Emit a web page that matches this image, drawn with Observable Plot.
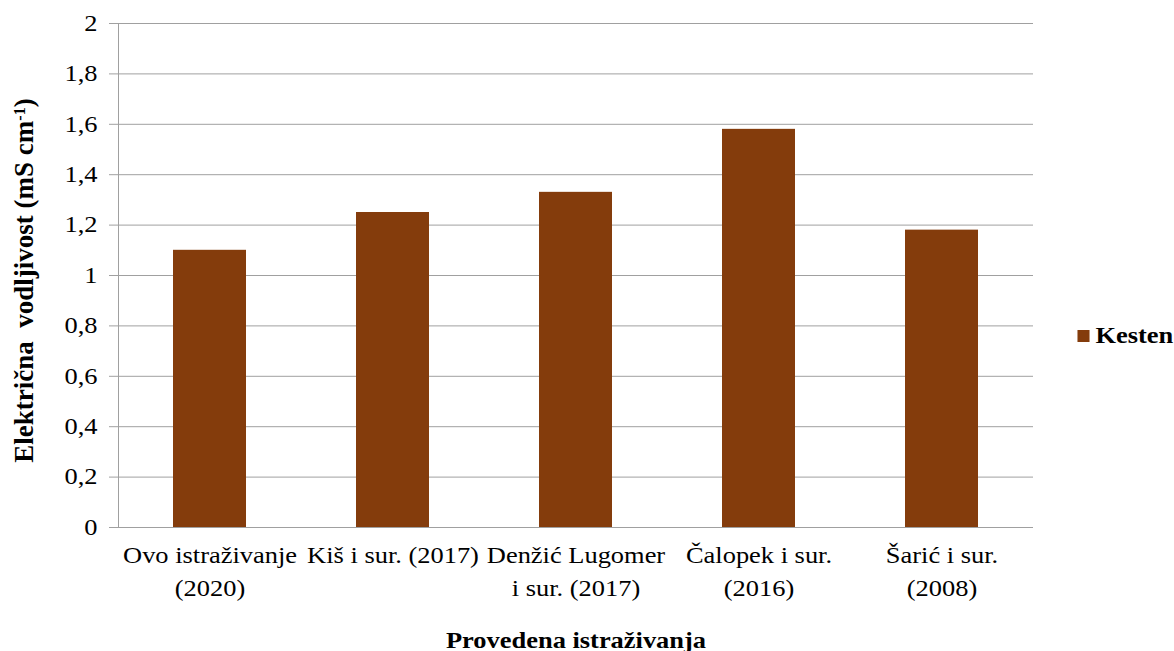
<!DOCTYPE html>
<html>
<head>
<meta charset="utf-8">
<script src="https://cdn.jsdelivr.net/npm/d3@7"></script>
<script src="https://cdn.jsdelivr.net/npm/@observablehq/plot@0.6"></script>
<style>
  html, body { margin: 0; padding: 0; background: #fff; }
  #chart { width: 1174px; height: 651px; }
</style>
</head>
<body>
<div id="chart"></div>
<script>
const categories = ["Ovo istraživanje (2020)", "Kiš i sur. (2017)", "Denžić Lugomer i sur. (2017)", "Čalopek i sur. (2016)", "Šarić i sur. (2008)"];
const tickLabels = ["Ovo istraživanje\n(2020)", "Kiš i sur. (2017)", "Denžić Lugomer\ni sur. (2017)", "Čalopek i sur.\n(2016)", "Šarić i sur.\n(2008)"];
const values = [1.10, 1.25, 1.33, 1.58, 1.18];
const yTicks = [0, 0.2, 0.4, 0.6, 0.8, 1.0, 1.2, 1.4, 1.6, 1.8, 2.0];
const seriesName = "Kesten";
const xTitle = "Provedena istraživanja";
const yTitle = "Električna\u00a0 vodljivost (mS cm-1)";

const data = categories.map((c, i) => ({study: c, value: values[i]}));
const barColor = "#843C0C";
const gridColor = "#a0a0a0";

const plot = Plot.plot({
  width: 1174,
  height: 651,
  marginLeft: 118,
  marginRight: 141,
  marginTop: 23,
  marginBottom: 124,
  style: {fontFamily: "'Liberation Serif', 'Times New Roman', serif", fontSize: "23px", color: "black", background: "white"},
  x: {domain: categories, paddingInner: 0.6, paddingOuter: 0.3, label: null},
  y: {domain: [0, 2], label: null},
  marks: [
    Plot.gridY(yTicks, {stroke: gridColor, strokeOpacity: 1}),
    Plot.barY(data, {x: "study", y: "value", fill: barColor}),
    Plot.ruleY([0], {stroke: gridColor}),
    Plot.frame({anchor: "left", stroke: gridColor}),
    Plot.axisY(yTicks, {
      tickSize: 9, tickPadding: 12, stroke: gridColor, fill: "black",
      tickFormat: d => String(Math.round(d * 10) / 10).replace(".", ","),
      label: null, fontSize: 23
    }),
    Plot.axisX({
      tickSize: 0, tickPadding: 12, fill: "black", fontSize: 23,
      tickFormat: d => tickLabels[categories.indexOf(d)],
      lineHeight: 1.43, lineAnchor: "top", label: null
    }),
    Plot.text([xTitle], {frameAnchor: "bottom", dy: 120, lineAnchor: "bottom", fontWeight: "bold", fontSize: 23, fill: "black"}),
    Plot.dot([seriesName], {frameAnchor: "right", dx: 50, dy: 60.5, symbol: "square", r: 6.8, fill: barColor, stroke: null}),
    Plot.text([seriesName], {frameAnchor: "right", dx: 62, dy: 60, textAnchor: "start", fontWeight: "bold", fontSize: 23, fill: "black"}),
    Plot.text([yTitle], {frameAnchor: "left", dx: -86, dy: 5, rotate: -90, textAnchor: "middle", lineAnchor: "bottom", fontWeight: "bold", fontSize: 27, fill: "black", className: "ylab"})
  ]
});

// horizontal stretch of text to match the reference rendering
plot.querySelectorAll("text").forEach(t => {
  if (t.closest(".ylab")) return;
  const tr = t.getAttribute("transform") || "";
  const x = +t.getAttribute("x") || 0;
  const y = +t.getAttribute("y") || 0;
  t.setAttribute("transform", `${tr} translate(${x},${y}) scale(1.15,1) translate(${-x},${-y})`);
});

// superscript for the unit in the y title
plot.querySelectorAll(".ylab text").forEach(t => {
  const s = t.textContent;
  if (!s.endsWith("cm-1)")) return;
  const base = s.slice(0, s.length - 3);
  t.textContent = "";
  const ns = "http://www.w3.org/2000/svg";
  const a = document.createElementNS(ns, "tspan"); a.textContent = base; t.appendChild(a);
  const b = document.createElementNS(ns, "tspan"); b.textContent = "-1";
  b.setAttribute("baseline-shift", "super"); b.setAttribute("font-size", "16"); t.appendChild(b);
  const c = document.createElementNS(ns, "tspan"); c.textContent = ")"; t.appendChild(c);
});

document.getElementById("chart").appendChild(plot);
</script>
</body>
</html>
